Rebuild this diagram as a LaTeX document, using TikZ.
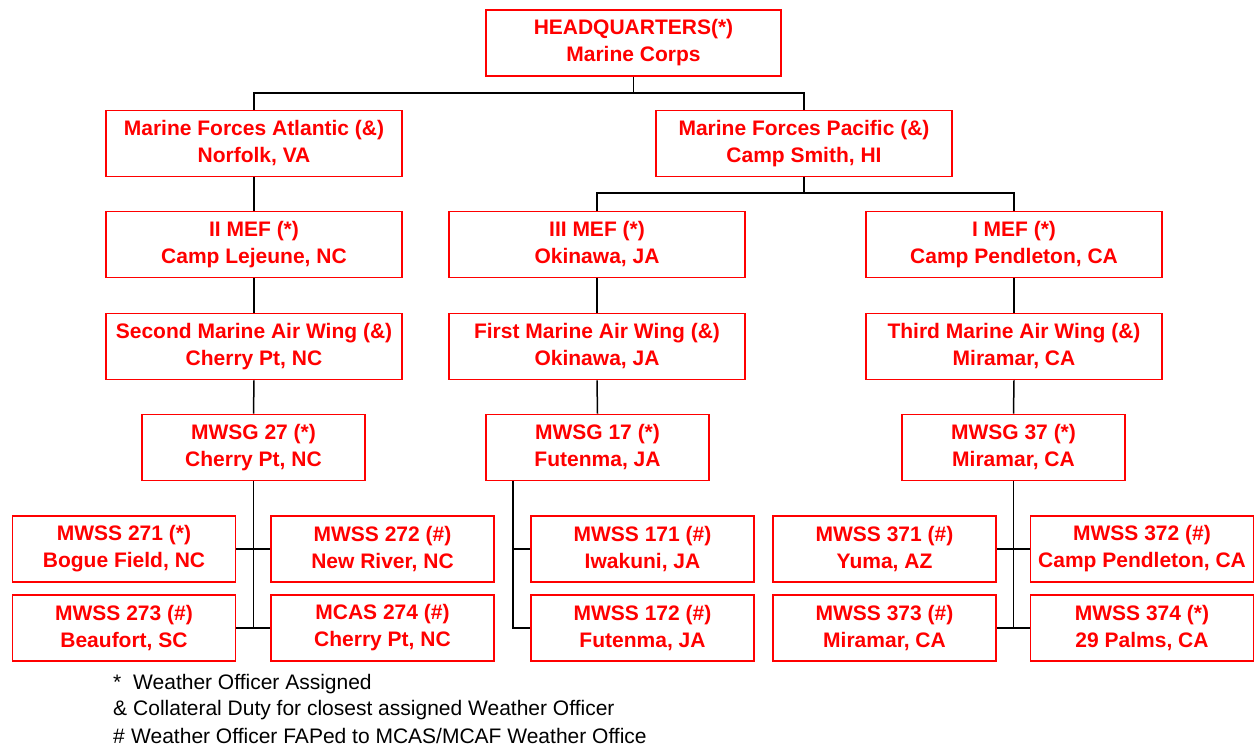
\documentclass[tikz,border=0pt]{standalone}
\usepackage{fontspec}
\setmainfont{Liberation Sans}
\definecolor{boxred}{RGB}{255,0,0}
\begin{document}
\begin{tikzpicture}[x=1pt,y=-1pt,
  unit/.style={draw=boxred, line width=1.6pt, text=boxred, fill=white,
    font=\fontsize{21}{27}\selectfont\bfseries, align=center,
    inner sep=0pt, minimum height=66pt},
  widebox/.style={unit, minimum width=296pt},
  midbox/.style={unit, minimum width=223pt},
  link/.style={draw=black, line width=1.5pt},
  legend/.style={anchor=west, inner sep=0pt, font=\fontsize{21}{24}\selectfont}]
\path[use as bounding box, fill=white] (0,0) rectangle (1254,747);

% nodes
\node[widebox, minimum width=295pt] (hq) at (633.5,43) {HEADQUARTERS(*)\\Marine Corps};
\node[widebox] (atl) at (254,143.5) {Marine Forces Atlantic (\&)\\Norfolk, VA};
\node[widebox] (pac) at (804,143.5) {Marine Forces Pacific (\&)\\Camp Smith, HI};

\node[widebox] (mef2) at (254,244.5) {II MEF (*)\\Camp Lejeune, NC};
\node[widebox] (mef3) at (597,244.5) {III MEF (*)\\Okinawa, JA};
\node[widebox] (mef1) at (1014,244.5) {I MEF (*)\\Camp Pendleton, CA};

\node[widebox] (maw2) at (254,346.5) {Second Marine Air Wing (\&)\\Cherry Pt, NC};
\node[widebox] (maw1) at (597,346.5) {First Marine Air Wing (\&)\\Okinawa, JA};
\node[widebox] (maw3) at (1014,346.5) {Third Marine Air Wing (\&)\\Miramar, CA};

\node[midbox] (g27) at (253.5,447.5) {MWSG 27 (*)\\Cherry Pt, NC};
\node[midbox] (g17) at (597.5,447.5) {MWSG 17 (*)\\Futenma, JA};
\node[midbox] (g37) at (1013.5,447.5) {MWSG 37 (*)\\Miramar, CA};

\node[midbox] (s271) at (124,549) {MWSS 271 (*)\\Bogue Field, NC};
\node[midbox] (s272) at (382.5,549) {MWSS 272 (\#)\\New River, NC};
\node[midbox] (s171) at (642.5,549) {MWSS 171 (\#)\\Iwakuni, JA};
\node[midbox] (s371) at (884.5,549) {MWSS 371 (\#)\\Yuma, AZ};
\node[midbox] (s372) at (1142,549) {MWSS 372 (\#)\\Camp Pendleton, CA};

\node[midbox] (s273) at (124,628) {MWSS 273 (\#)\\Beaufort, SC};
\node[midbox] (s274) at (382.5,628) {MCAS 274 (\#)\\Cherry Pt, NC};
\node[midbox] (s172) at (642.5,628) {MWSS 172 (\#)\\Futenma, JA};
\node[midbox] (s373) at (884.5,628) {MWSS 373 (\#)\\Miramar, CA};
\node[midbox] (s374) at (1142,628) {MWSS 374 (*)\\29 Palms, CA};

% connectors
\coordinate (bus1) at (633.5,93);
\coordinate (bus2) at (804,193);
\coordinate (tap17) at (513,481);
\draw[link] (hq.south) -- (bus1);
\draw[link] (atl.north) |- (bus1) -| (pac.north);
\draw[link] (pac.south) -- (bus2);
\draw[link] (mef3.north) |- (bus2) -| (mef1.north);

\draw[link] (atl.south) -- (mef2.north);
\draw[link] (mef2.south) -- (maw2.north);
\draw[link] (maw2.south) -- (g27.north);
\draw[link] (mef3.south) -- (maw1.north);
\draw[link] (maw1.south) -- (g17.north);
\draw[link] (mef1.south) -- (maw3.north);
\draw[link] (maw3.south) -- (g37.north);

\draw[link] (g27.south) -- (g27.south |- s273.east);
\draw[link] (s271.east) -- (s272.west);
\draw[link] (s273.east) -- (s274.west);

\draw[link] (tap17) |- (s171.west);
\draw[link] (tap17) |- (s172.west);

\draw[link] (g37.south) -- (g37.south |- s373.east);
\draw[link] (s371.east) -- (s372.west);
\draw[link] (s373.east) -- (s374.west);

% legend
\node[legend] (l1) at (113,684) {\makebox[20pt][l]{*}Weather Officer Assigned};
\node[legend] (l2) at (113,710) {\makebox[20pt][l]{\&}Collateral Duty for closest assigned Weather Officer};
\node[legend] (l3) at (113,736) {\makebox[18pt][l]{\#}Weather Officer FAPed to MCAS/MCAF Weather Office};
\end{tikzpicture}
\end{document}
